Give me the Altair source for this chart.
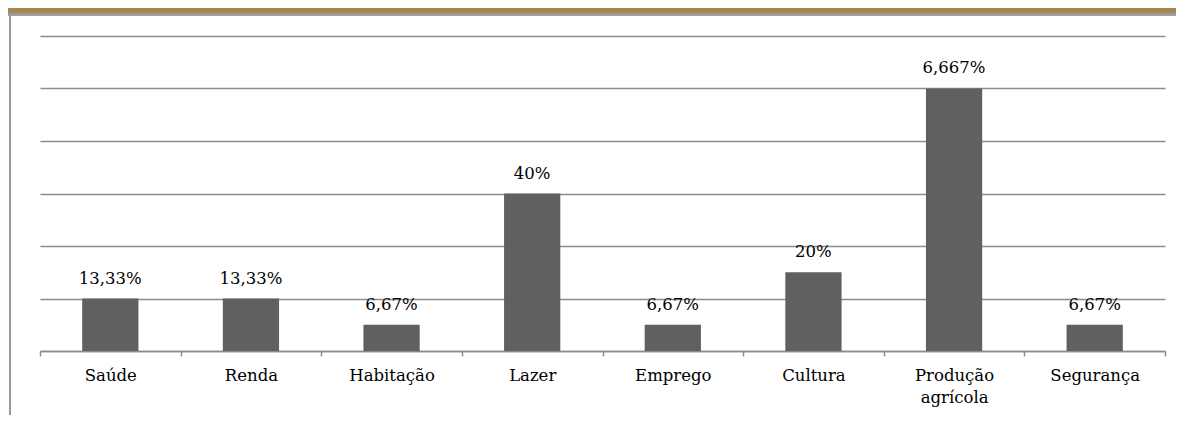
import altair as alt
import pandas as pd

categories = ["Saúde", "Renda", "Habitação", "Lazer", "Emprego", "Cultura", "Produção\nagrícola", "Segurança"]
values = [13.33, 13.33, 6.67, 40.0, 6.67, 20.0, 66.67, 6.67]
labels = ["13,33%", "13,33%", "6,67%", "40%", "6,67%", "20%", "6,667%", "6,67%"]
grid_values = [0, 13.333, 26.667, 40, 53.333, 66.667, 80]

df = pd.DataFrame({"cat": categories, "val": values, "lab": labels})

FONT = "DejaVu Serif"
FS = 16.5

x = alt.X("cat:N", sort=categories, title=None,
          scale=alt.Scale(paddingInner=0, paddingOuter=0),
          axis=alt.Axis(labelAngle=0, labelFont=FONT, labelFontSize=FS, labelColor="#000000",
                        labelPadding=11, labelBaseline="top", labelLineHeight=22,
                        labelExpr="split(datum.label, '\\n')",
                        domainColor="#8c8c8c", domainWidth=1.5, tickColor="#8c8c8c",
                        tickWidth=1.5, tickSize=5, tickBand="extent", grid=False))
y = alt.Y("val:Q", title=None,
          scale=alt.Scale(domain=[0, 80], nice=False, zero=True),
          axis=alt.Axis(values=grid_values, labels=False, ticks=False, domain=False,
                        grid=True, gridColor="#8c8c8c", gridWidth=1.5))

bars = alt.Chart(df).mark_bar(color="#606060", width=alt.RelativeBandSize(0.4)).encode(x=x, y=y)
text = alt.Chart(df).mark_text(font=FONT, fontSize=FS, color="#000000", dy=-15,
                               baseline="alphabetic").encode(
    x=alt.X("cat:N", sort=categories), y="val:Q", text="lab:N")

band = alt.Chart(df).mark_rect(color="#a6874f", clip=False).encode(
    x=alt.value(-32), x2=alt.value(1136), y=alt.value(-28), y2=alt.value(-22))
band_line = alt.Chart(df).mark_rule(color="#9a9a9a", strokeWidth=1.5, clip=False).encode(
    x=alt.value(-32), x2=alt.value(1136), y=alt.value(-21.5))
left_line = alt.Chart(df).mark_rule(color="#9a9a9a", strokeWidth=2, clip=False).encode(
    x=alt.value(-30), y=alt.value(-21), y2=alt.value(380))

chart = alt.layer(bars, text, band, band_line, left_line).properties(
    width=1125, height=315,
    autosize=alt.AutoSizeParams(type="none"),
    padding={"left": 32, "top": 28, "right": 11, "bottom": 64},
    background="#ffffff",
).configure_view(stroke=None)

chart.save("out.html", embed_options={"renderer": "svg", "actions": False})
